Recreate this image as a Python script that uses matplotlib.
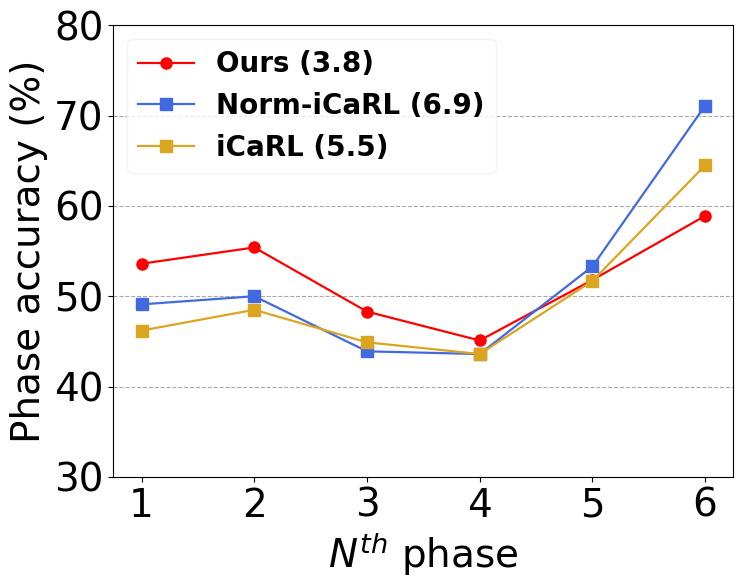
import matplotlib
matplotlib.use('Agg')
import matplotlib.pyplot as plt

phases = [1, 2, 3, 4, 5, 6]
ours = [53.6, 55.4, 48.3, 45.1, 51.8, 58.9]
norm_icarl = [49.1, 50.0, 43.9, 43.6, 53.3, 71.1]
icarl = [46.2, 48.5, 44.9, 43.6, 51.7, 64.5]

fig, ax = plt.subplots(figsize=(7.46, 5.88), dpi=100)
ax.plot(phases, ours, marker='o', color='red', markersize=8, linewidth=1.6, label='Ours (3.8)')
ax.plot(phases, norm_icarl, marker='s', color='royalblue', markersize=8, linewidth=1.6, label='Norm-iCaRL (6.9)')
ax.plot(phases, icarl, marker='s', color='goldenrod', markersize=8, linewidth=1.6, label='iCaRL (5.5)')

ax.set_ylim(30, 80)
ax.set_xticks(phases)
ax.set_yticks([30, 40, 50, 60, 70, 80])
ax.tick_params(labelsize=28)
ax.set_xlabel('$N^{th}$ phase', fontsize=28)
ax.set_ylabel('Phase accuracy (%)', fontsize=28)
ax.grid(True, axis='y', linestyle='--', color='#aaaaaa', linewidth=0.8)
ax.legend(loc='upper left', prop={'weight': 'bold', 'size': 20}, edgecolor='#f0f0f0')

fig.subplots_adjust(left=0.152, right=0.983, top=0.957, bottom=0.189)
fig.savefig('out.png')
